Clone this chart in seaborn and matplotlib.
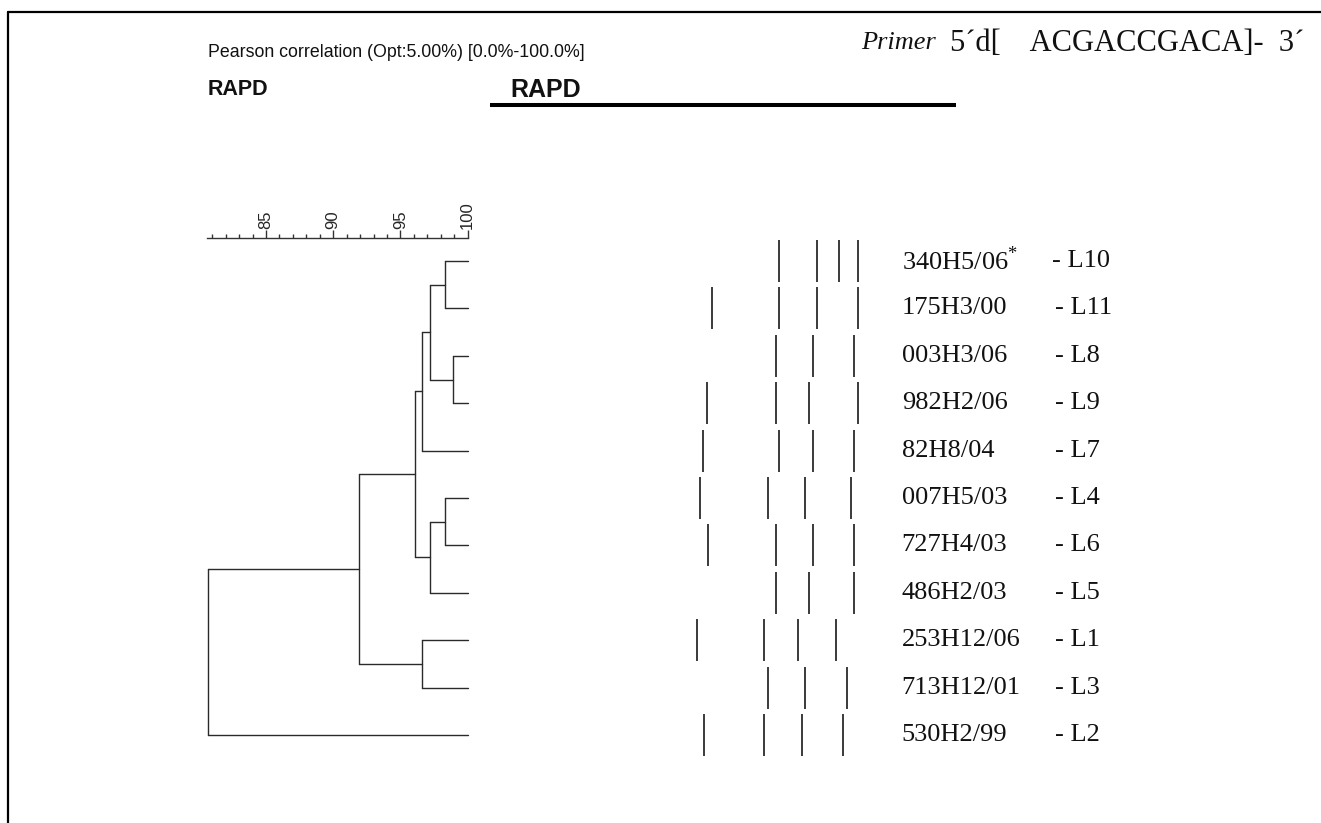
import numpy as np
import pandas as pd
import matplotlib
matplotlib.use("Agg")
import matplotlib.pyplot as plt
import seaborn as sns

# ---------------- data ----------------
strains = ["340H5/06", "175H3/00", "003H3/06", "982H2/06", "82H8/04",
           "007H5/03", "727H4/03", "486H2/03", "253H12/06", "713H12/01", "530H2/99"]
lanes = ["L10", "L11", "L8", "L9", "L7", "L4", "L6", "L5", "L1", "L3", "L2"]

# merges: (child_a, child_b, similarity %) ; leaves are 0..10, new nodes 11..
merge_a = [0, 2, 11, 13, 5, 15, 14, 8, 17, 19]
merge_b = [1, 3, 12, 4, 6, 7, 16, 9, 18, 10]
merge_sim = [98.3, 98.9, 97.2, 96.6, 98.3, 97.2, 96.1, 96.6, 91.9, 80.7]

# band positions (relative migration, 0-100) per lane
band_pos = [
    [52.1, 71.9, 83.8, 93.5],
    [16.7, 52.1, 71.9, 93.5],
    [50.4, 70.2, 91.7],
    [14.4, 50.4, 68.1, 93.5],
    [12.3, 52.1, 70.2, 91.7],
    [10.5, 46.3, 65.9, 89.8],
    [14.6, 50.4, 70.2, 91.7],
    [50.4, 68.1, 91.7],
    [8.8, 44.2, 62.1, 81.9],
    [46.3, 65.9, 87.7],
    [12.6, 44.2, 64.1, 85.8],
]

scale_major = [85, 90, 95, 100]
scale_minor = list(range(81, 100))

header_text = "Pearson correlation (Opt:5.00%) [0.0%-100.0%]"
header_sub = "RAPD"
title_text = "RAPD"
primer_label = "Primer"
primer_seq = "5\u00b4d[    ACGACCGACA]-  3\u00b4"

# ---------------- style ----------------
sns.set_theme(style="white")
plt.rcParams["font.family"] = ["Liberation Serif", "DejaVu Serif"]
plt.rcParams["mathtext.fontset"] = "custom"
plt.rcParams["mathtext.rm"] = "Liberation Serif"

W, H = 1321, 823
fig = plt.figure(figsize=(W / 100, H / 100), dpi=100)
fig.patch.set_facecolor("white")


def rect(x0, y0, x1, y1):
    return [x0 / W, 1 - y1 / H, (x1 - x0) / W, (y1 - y0) / H]


leaf_y0, leaf_dy = 261.0, 47.4
ytop, ybot = -0.49, 11.0
py_top = leaf_y0 + ytop * leaf_dy
py_bot = leaf_y0 + ybot * leaf_dy

# dendrogram axes (similarity scale)
px_per = 13.45
x100 = 467.7
xmin, xmax = 80.0, 100.6
ax_d = fig.add_axes(rect(x100 - (100 - xmin) * px_per, py_top,
                         x100 + (xmax - 100) * px_per, py_bot))
ax_d.set_xlim(xmin, xmax)
ax_d.set_ylim(ybot, ytop)
ax_d.set_facecolor("none")

n = len(strains)
node_x = {i: 100.0 for i in range(n)}
node_y = {i: float(i) for i in range(n)}
lc = "#2a2a2a"
for k, (a, b, s) in enumerate(zip(merge_a, merge_b, merge_sim)):
    nid = n + k
    ax_d.plot([s, s], [node_y[a], node_y[b]], color=lc, lw=1.0)
    ax_d.plot([s, node_x[a]], [node_y[a], node_y[a]], color=lc, lw=1.0)
    ax_d.plot([s, node_x[b]], [node_y[b], node_y[b]], color=lc, lw=1.0)
    node_x[nid] = s
    node_y[nid] = (node_y[a] + node_y[b]) / 2

for sp in ["left", "right", "bottom"]:
    ax_d.spines[sp].set_visible(False)
ax_d.spines["top"].set_bounds(80.6, 100)
ax_d.spines["top"].set_color("#333333")
ax_d.spines["top"].set_linewidth(1.0)
ax_d.xaxis.tick_top()
ax_d.set_xticks(scale_major)
ax_d.set_xticks(scale_minor, minor=True)
ax_d.set_xticklabels([str(v) for v in scale_major], rotation=90,
                     family="Liberation Sans", fontsize=12)
ax_d.tick_params(axis="x", which="major", direction="out", length=6, width=1,
                 color="#333333", pad=0, top=True, bottom=False)
ax_d.tick_params(axis="x", which="minor", direction="out", length=3, width=1,
                 color="#333333", top=True, bottom=False)
ax_d.set_yticks([])
ax_d.grid(False)

# band axes
ax_b = fig.add_axes(rect(680, py_top, 870, py_bot))
ax_b.set_xlim(0, 100)
ax_b.set_ylim(ybot, ytop)
ax_b.axis("off")

rows = []
for i, bl in enumerate(band_pos):
    for p in bl:
        rows.append({"pos": p, "lane": float(i)})
bands = pd.DataFrame(rows)
band_len_pt = 0.886 * leaf_dy * 72 / 100
sns.scatterplot(data=bands, x="pos", y="lane", marker="|", s=band_len_pt ** 2,
                color="#3a3a3a", linewidth=1.4, ax=ax_b, legend=False)
ax_b.set_xlim(0, 100)
ax_b.set_ylim(ybot, ytop)

lab_x = (901.7 - 680) / 190 * 100
lane_x = (1055 - 680) / 190 * 100
for i, (st, ln) in enumerate(zip(strains, lanes)):
    txt = st + (r"$^{*}$" if i == 0 else "")
    ax_b.text(lab_x, i, txt, fontsize=19, va="center", ha="left",
              color="#111111", clip_on=False)
    ax_b.text(lane_x - (1.5 if i == 0 else 0), i, "- " + ln, fontsize=19,
              va="center", ha="left", color="#111111", clip_on=False)

# overlay for frame & header
ax_o = fig.add_axes([0, 0, 1, 1])
ax_o.set_xlim(0, W)
ax_o.set_ylim(H, 0)
ax_o.axis("off")
ax_o.plot([8, W], [12, 12], color="black", lw=1.6)
ax_o.plot([8, 8], [12, H], color="black", lw=1.6)
ax_o.plot([490, 956], [104.5, 104.5], color="black", lw=2.9, solid_capstyle="butt")

ax_o.text(208, 52, header_text, family="Liberation Sans", fontsize=12.8,
          va="center", ha="left", color="#111111")
ax_o.text(208, 89, header_sub, family="Liberation Sans", fontsize=15.5,
          fontweight="bold", va="center", ha="left", color="#111111")
ax_o.text(510, 90, title_text, family="Liberation Sans", fontsize=18,
          fontweight="bold", va="center", ha="left", color="#111111")
ax_o.text(861, 43, primer_label, fontsize=19, style="italic", va="center",
          ha="left", color="#111111")
ax_o.text(950, 43, primer_seq, fontsize=22, va="center", ha="left",
          color="#111111")

fig.savefig("out.png", dpi=100, facecolor="white")
